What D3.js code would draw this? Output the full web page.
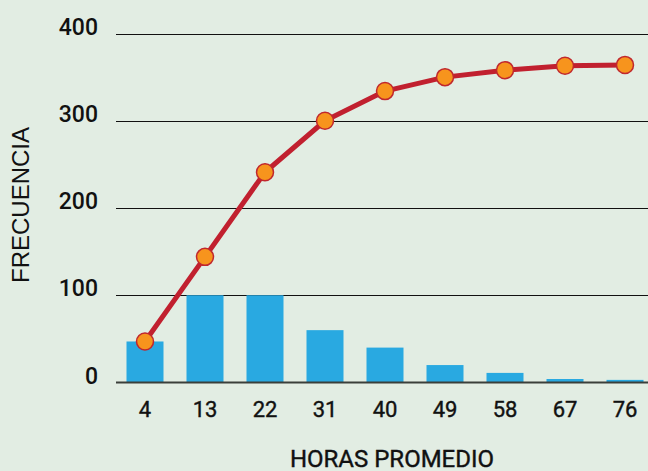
<!DOCTYPE html>
<html>
<head>
<meta charset="utf-8">
<script src="https://cdn.jsdelivr.net/npm/d3@7"></script>
<style>
  html, body { margin: 0; padding: 0; background: #e2ede3; overflow: hidden; }
  svg { display: block; font-family: Roboto, "Noto Sans", sans-serif; }
</style>
</head>
<body>
<svg id="chart" width="648" height="471"></svg>
<script>
// categories: average hours
const horas = ['4', '13', '22', '31', '40', '49', '58', '67', '76'];
// frequency per class (bars)
const frecuencia = [47, 100, 100, 60, 40, 20, 11, 4, 3];
// line series (red line with orange dots)
const acumulada = [47, 144, 241, 300, 334, 350, 358, 363, 364];
const yTicks = [0, 100, 200, 300, 400];

const svg = d3.select('#chart');

const x = d3.scalePoint()
    .domain(horas)
    .range([145, 625]);

const y = d3.scaleLinear()
    .domain([0, 400])
    .range([382.5, 33.5]);

const barW = 37;

// gridlines
svg.append('g')
    .selectAll('line')
    .data(yTicks.filter(d => d > 0))
    .join('line')
    .attr('x1', 116)
    .attr('x2', 648)
    .attr('y1', d => Math.round(y(d)) + 0.5)
    .attr('y2', d => Math.round(y(d)) + 0.5)
    .attr('stroke', '#111')
    .attr('stroke-width', 1);

// y tick labels
svg.append('g')
    .selectAll('text')
    .data(yTicks)
    .join('text')
    .attr('x', 98)
    .attr('y', d => y(d) + 1)
    .attr('text-anchor', 'end')
    .attr('font-size', 23)
    .attr('font-weight', 500)
    .attr('fill', '#111')
    .text(d => d);

// bars
svg.append('g')
    .selectAll('rect')
    .data(frecuencia)
    .join('rect')
    .attr('x', (d, i) => x(horas[i]) - barW / 2)
    .attr('width', barW)
    .attr('y', d => y(d))
    .attr('height', d => y(0) - y(d))
    .attr('fill', '#29a9e1');

// axis baseline on top of bars
svg.append('line')
    .attr('x1', 116).attr('x2', 648)
    .attr('y1', y(0)).attr('y2', y(0))
    .attr('stroke', '#3a3f3a')
    .attr('stroke-width', 2);

// x tick labels
svg.append('g')
    .selectAll('text')
    .data(horas)
    .join('text')
    .attr('x', d => x(d))
    .attr('y', 417)
    .attr('text-anchor', 'middle')
    .attr('font-size', 22)
    .attr('fill', '#111')
    .attr('stroke', '#111')
    .attr('stroke-width', 0.4)
    .text(d => d);

// line
const line = d3.line()
    .x((d, i) => x(horas[i]))
    .y(d => y(d));

svg.append('path')
    .datum(acumulada)
    .attr('d', line)
    .attr('fill', 'none')
    .attr('stroke', '#c1202f')
    .attr('stroke-width', 5)
    .attr('stroke-linejoin', 'round');

svg.append('g')
    .selectAll('circle')
    .data(acumulada)
    .join('circle')
    .attr('cx', (d, i) => x(horas[i]))
    .attr('cy', d => y(d))
    .attr('r', 8.5)
    .attr('fill', '#f7941d')
    .attr('stroke', '#c1272d')
    .attr('stroke-width', 1.5);

// axis titles
svg.append('text')
    .attr('x', 392)
    .attr('y', 467)
    .attr('text-anchor', 'middle')
    .attr('font-size', 24)
    .attr('fill', '#111')
    .attr('stroke', '#111')
    .attr('stroke-width', 0.4)
    .text('HORAS PROMEDIO');

svg.append('text')
    .attr('transform', 'translate(29,205) rotate(-90)')
    .attr('text-anchor', 'middle')
    .attr('font-family', '"Liberation Sans", Arial, sans-serif')
    .attr('font-size', 24)
    .attr('fill', '#111')
    .text('FRECUENCIA');
</script>
</body>
</html>
